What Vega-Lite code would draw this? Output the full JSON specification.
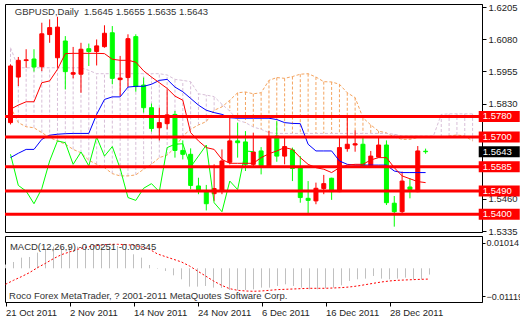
{
"$schema": "https://vega.github.io/schema/vega-lite/v6.json",
"padding": {"left": 3, "top": 1, "right": 0, "bottom": 0},
"background": "white",
"spacing": 4,
"bounds": "flush",
"config": {
  "view": {"stroke": "#000000", "strokeWidth": 1},
  "font": "Liberation Sans",
  "axis": {"labelFont": "Liberation Sans", "labelFontSize": 9.5, "labelColor": "#1e1e1e", "tickColor": "#000000", "domainColor": "#000000", "grid": false, "labelOverlap": false, "labelFlush": false}
},
"datasets": {
  "bars": [
    {"i":0,"o":1.5756,"h":1.5982,"l":1.5749,"c":1.5976,"tk":1.5808,"kj":1.5620,"ck":1.5633,"sa":1.5817,"sb":1.6047,"macd":0.0015,"sig":-0.0064},
    {"i":1,"o":1.5933,"h":1.6011,"l":1.5898,"c":1.5998,"tk":1.5824,"kj":1.5637,"ck":1.5512,"sa":1.5756,"sb":1.5969,"macd":0.00253,"sig":-0.0048},
    {"i":2,"o":1.5997,"h":1.6041,"l":1.5969,"c":1.6000,"tk":1.5837,"kj":1.5652,"ck":1.5490,"sa":1.5740,"sb":1.5969,"macd":0.00427,"sig":-0.00333},
    {"i":3,"o":1.6003,"h":1.6041,"l":1.5954,"c":1.5972,"tk":1.5837,"kj":1.5652,"ck":1.5441,"sa":1.5736,"sb":1.5969,"macd":0.00453,"sig":-0.00173},
    {"i":4,"o":1.5973,"h":1.6144,"l":1.5956,"c":1.6101,"tk":1.5911,"kj":1.5691,"ck":1.5500,"sa":1.5717,"sb":1.5969,"macd":0.00627,"sig":0.00027},
    {"i":5,"o":1.6098,"h":1.6157,"l":1.6066,"c":1.6125,"tk":1.5918,"kj":1.5707,"ck":1.5607,"sa":1.5698,"sb":1.5969,"macd":0.0076,"sig":0.002},
    {"i":6,"o":1.6008,"h":1.6167,"l":1.5969,"c":1.6127,"tk":1.5963,"kj":1.5711,"ck":1.5685,"sa":1.5685,"sb":1.5969,"macd":0.00867,"sig":0.00387},
    {"i":7,"o":1.6073,"h":1.6092,"l":1.5885,"c":1.5954,"tk":1.6024,"kj":1.5713,"ck":1.5678,"sa":1.5672,"sb":1.5969,"macd":0.00867,"sig":0.00547},
    {"i":8,"o":1.5944,"h":1.6050,"l":1.5928,"c":1.5950,"tk":1.6025,"kj":1.5714,"ck":1.5594,"sa":1.5652,"sb":1.5969,"macd":0.00827,"sig":0.00653},
    {"i":9,"o":1.5944,"h":1.6066,"l":1.5872,"c":1.6041,"tk":1.6025,"kj":1.5714,"ck":1.5642,"sa":1.5639,"sb":1.5969,"macd":0.00867,"sig":0.0076},
    {"i":10,"o":1.6043,"h":1.6063,"l":1.5976,"c":1.6032,"tk":1.6025,"kj":1.5714,"ck":1.5588,"sa":1.5610,"sb":1.5959,"macd":0.00867,"sig":0.0084},
    {"i":11,"o":1.6032,"h":1.6079,"l":1.5978,"c":1.6054,"tk":1.6025,"kj":1.5788,"ck":1.5700,"sa":1.5594,"sb":1.5946,"macd":0.00853,"sig":0.00893},
    {"i":12,"o":1.6051,"h":1.6134,"l":1.6047,"c":1.6103,"tk":1.6024,"kj":1.5846,"ck":1.5626,"sa":1.5581,"sb":1.5946,"macd":0.00867,"sig":0.00933},
    {"i":13,"o":1.6105,"h":1.6131,"l":1.5905,"c":1.5928,"tk":1.6002,"kj":1.5856,"ck":1.5663,"sa":1.5558,"sb":1.5946,"macd":0.00867,"sig":0.0096},
    {"i":14,"o":1.5923,"h":1.6015,"l":1.5859,"c":1.5929,"tk":1.5998,"kj":1.5856,"ck":1.5578,"sa":1.5549,"sb":1.5946,"macd":0.00893,"sig":0.0096},
    {"i":15,"o":1.5931,"h":1.6099,"l":1.5894,"c":1.6082,"tk":1.5998,"kj":1.5894,"ck":1.5465,"sa":1.5549,"sb":1.5946,"macd":0.00827,"sig":0.00947},
    {"i":16,"o":1.6090,"h":1.6099,"l":1.5876,"c":1.5896,"tk":1.5991,"kj":1.5897,"ck":1.5454,"sa":1.5553,"sb":1.5946,"macd":0.0056,"sig":0.0092},
    {"i":17,"o":1.5902,"h":1.5931,"l":1.5795,"c":1.5814,"tk":1.5957,"kj":1.5897,"ck":1.5501,"sa":1.5575,"sb":1.5946,"macd":0.00427,"sig":0.00853},
    {"i":18,"o":1.5814,"h":1.5830,"l":1.5721,"c":1.5733,"tk":1.5933,"kj":1.5905,"ck":1.5519,"sa":1.5594,"sb":1.5946,"macd":0.00133,"sig":0.0076},
    {"i":19,"o":1.5736,"h":1.5814,"l":1.5687,"c":1.5756,"tk":1.5911,"kj":1.5920,"ck":1.5488,"sa":1.5620,"sb":1.5946,"macd":-0.0002,"sig":0.00573},
    {"i":20,"o":1.5752,"h":1.5885,"l":1.5730,"c":1.5786,"tk":1.5889,"kj":1.5924,"ck":1.5659,"sa":1.5630,"sb":1.5941,"macd":-0.00107,"sig":0.00467},
    {"i":21,"o":1.5788,"h":1.5801,"l":1.5620,"c":1.5648,"tk":1.5859,"kj":1.5894,"ck":1.5672,"sa":1.5659,"sb":1.5924,"macd":-0.0028,"sig":0.0036},
    {"i":22,"o":1.5648,"h":1.5687,"l":1.5613,"c":1.5633,"tk":1.5843,"kj":1.5876,"ck":1.5674,"sa":1.5704,"sb":1.5920,"macd":-0.0044,"sig":0.00253},
    {"i":23,"o":1.5633,"h":1.5656,"l":1.5497,"c":1.5512,"tk":1.5717,"kj":1.5850,"ck":1.5584,"sa":1.5730,"sb":1.5915,"macd":-0.00733,"sig":0.00093},
    {"i":24,"o":1.5510,"h":1.5542,"l":1.5478,"c":1.5490,"tk":1.5685,"kj":1.5824,"ck":1.5626,"sa":1.5747,"sb":1.5868,"macd":-0.00733,"sig":-0.00107},
    {"i":25,"o":1.5490,"h":1.5514,"l":1.5415,"c":1.5441,"tk":1.5659,"kj":1.5804,"ck":1.5669,"sa":1.5760,"sb":1.5863,"macd":-0.00707,"sig":-0.00307},
    {"i":26,"o":1.5480,"h":1.5594,"l":1.5452,"c":1.5500,"tk":1.5652,"kj":1.5795,"ck":1.5445,"sa":1.5804,"sb":1.5857,"macd":-0.00773,"sig":-0.00507},
    {"i":27,"o":1.5494,"h":1.5652,"l":1.5478,"c":1.5607,"tk":1.5613,"kj":1.5788,"ck":1.5410,"sa":1.5817,"sb":1.5827,"macd":-0.00787,"sig":-0.0068},
    {"i":28,"o":1.5602,"h":1.5782,"l":1.5594,"c":1.5685,"tk":1.5598,"kj":1.5775,"ck":1.5529,"sa":1.5843,"sb":1.5801,"macd":-0.00867,"sig":-0.00813},
    {"i":29,"o":1.5685,"h":1.5756,"l":1.5620,"c":1.5678,"tk":1.5598,"kj":1.5773,"ck":1.5496,"sa":1.5872,"sb":1.5765,"macd":-0.0088,"sig":-0.0088},
    {"i":30,"o":1.5681,"h":1.5723,"l":1.5568,"c":1.5594,"tk":1.5598,"kj":1.5773,"ck":1.5646,"sa":1.5875,"sb":1.5756,"macd":-0.00867,"sig":-0.00907},
    {"i":31,"o":1.5594,"h":1.5717,"l":1.5584,"c":1.5642,"tk":1.5598,"kj":1.5773,"ck":1.5643,"sa":1.5868,"sb":1.5739,"macd":-0.0084,"sig":-0.0092},
    {"i":32,"o":1.5646,"h":1.5661,"l":1.5555,"c":1.5588,"tk":1.5620,"kj":1.5773,"sa":1.5872,"sb":1.5730,"macd":-0.00773,"sig":-0.00907},
    {"i":33,"o":1.5588,"h":1.5723,"l":1.5585,"c":1.5700,"tk":1.5635,"kj":1.5773,"sa":1.5920,"sb":1.5717,"macd":-0.00773,"sig":-0.0088},
    {"i":34,"o":1.5704,"h":1.5762,"l":1.5604,"c":1.5626,"tk":1.5646,"kj":1.5768,"sa":1.5931,"sb":1.5714,"macd":-0.00707,"sig":-0.00853},
    {"i":35,"o":1.5626,"h":1.5700,"l":1.5594,"c":1.5663,"tk":1.5659,"kj":1.5756,"sa":1.5928,"sb":1.5714,"macd":-0.0064,"sig":-0.0084},
    {"i":36,"o":1.5650,"h":1.5659,"l":1.5529,"c":1.5578,"tk":1.5652,"kj":1.5753,"sa":1.5935,"sb":1.5714,"macd":-0.00707,"sig":-0.00827},
    {"i":37,"o":1.5581,"h":1.5626,"l":1.5445,"c":1.5465,"tk":1.5620,"kj":1.5752,"sa":1.5944,"sb":1.5714,"macd":-0.00773,"sig":-0.00813},
    {"i":38,"o":1.5462,"h":1.5529,"l":1.5400,"c":1.5454,"tk":1.5594,"kj":1.5672,"sa":1.5946,"sb":1.5714,"macd":-0.0084,"sig":-0.008},
    {"i":39,"o":1.5452,"h":1.5523,"l":1.5439,"c":1.5501,"tk":1.5581,"kj":1.5646,"sa":1.5933,"sb":1.5714,"macd":-0.0084,"sig":-0.008},
    {"i":40,"o":1.5500,"h":1.5553,"l":1.5478,"c":1.5519,"tk":1.5575,"kj":1.5646,"sa":1.5915,"sb":1.5714,"macd":-0.008,"sig":-0.008},
    {"i":41,"o":1.5540,"h":1.5542,"l":1.5456,"c":1.5488,"tk":1.5562,"kj":1.5646,"sa":1.5914,"sb":1.5714,"macd":-0.00773,"sig":-0.00787},
    {"i":42,"o":1.5488,"h":1.5698,"l":1.5486,"c":1.5659,"tk":1.5581,"kj":1.5607,"sa":1.5905,"sb":1.5714,"macd":-0.0068,"sig":-0.00773},
    {"i":43,"o":1.5655,"h":1.5775,"l":1.5643,"c":1.5672,"tk":1.5591,"kj":1.5594,"sa":1.5872,"sb":1.5714,"macd":-0.00507,"sig":-0.00747},
    {"i":44,"o":1.5669,"h":1.5726,"l":1.5643,"c":1.5674,"tk":1.5594,"kj":1.5591,"sa":1.5853,"sb":1.5714,"macd":-0.0044,"sig":-0.00707},
    {"i":45,"o":1.5672,"h":1.5704,"l":1.5581,"c":1.5584,"tk":1.5594,"kj":1.5591,"sa":1.5775,"sb":1.5714,"macd":-0.00413,"sig":-0.00653},
    {"i":46,"o":1.5588,"h":1.5646,"l":1.5586,"c":1.5626,"tk":1.5611,"kj":1.5591,"sa":1.5747,"sb":1.5714,"macd":-0.00307,"sig":-0.006},
    {"i":47,"o":1.5622,"h":1.5698,"l":1.5620,"c":1.5669,"tk":1.5620,"kj":1.5591,"sa":1.5723,"sb":1.5714,"macd":-0.00413,"sig":-0.00547},
    {"i":48,"o":1.5669,"h":1.5687,"l":1.5436,"c":1.5445,"tk":1.5620,"kj":1.5591,"sa":1.5716,"sb":1.5714,"macd":-0.0044,"sig":-0.00507},
    {"i":49,"o":1.5443,"h":1.5471,"l":1.5352,"c":1.5410,"tk":1.5581,"kj":1.5568,"sa":1.5700,"sb":1.5711,"macd":-0.00413,"sig":-0.0048},
    {"i":50,"o":1.5410,"h":1.5566,"l":1.5400,"c":1.5529,"tk":1.5549,"kj":1.5562,"sa":1.5691,"sb":1.5704,"macd":-0.00373,"sig":-0.00467},
    {"i":51,"o":1.5506,"h":1.5540,"l":1.5462,"c":1.5496,"tk":1.5538,"kj":1.5562,"sa":1.5691,"sb":1.5704,"macd":-0.0044,"sig":-0.00453},
    {"i":52,"o":1.5488,"h":1.5665,"l":1.5486,"c":1.5646,"tk":1.5527,"kj":1.5562,"sa":1.5698,"sb":1.5704,"macd":-0.0044,"sig":-0.0044},
    {"i":53,"o":1.5645,"h":1.5655,"l":1.5635,"c":1.5643,"tk":1.5523,"kj":1.5562,"sa":1.5698,"sb":1.5704,"macd":-0.00251,"sig":-0.0043},
    {"i":54,"sa":1.5698,"sb":1.5704},
    {"i":55,"sa":1.5700,"sb":1.5788},
    {"i":56,"sa":1.5704,"sb":1.5790},
    {"i":57,"sa":1.5708,"sb":1.5790},
    {"i":58,"sa":1.5704,"sb":1.5790},
    {"i":59,"sa":1.5685,"sb":1.5790}
  ],
  "levels": [
    {"price":1.5780,"label":"1.5780","kind":"level"},
    {"price":1.5700,"label":"1.5700","kind":"level"},
    {"price":1.5585,"label":"1.5585","kind":"level"},
    {"price":1.5490,"label":"1.5490","kind":"level"},
    {"price":1.5400,"label":"1.5400","kind":"level"},
    {"price":1.5643,"label":"1.5643","kind":"current"}
  ]
},
"vconcat": [
  {
    "width": 477,
    "height": 228,
    "layer": [
      {
        "data": {"name": "bars"},
        "transform": [{"filter": "isValid(datum.sa)"}],
        "mark": {"type": "rule", "strokeDash": [3, 2], "strokeWidth": 1, "clip": true},
        "encoding": {
          "x": {"field": "i", "type": "quantitative", "scale": {"domain": [-0.0625, 59.5625], "nice": false, "zero": false}, "axis": null},
          "y": {"field": "sa", "type": "quantitative", "title": null, "scale": {"domain": [1.53312, 1.62167], "nice": false, "zero": false},
                "axis": {"orient": "right", "values": [1.6205, 1.608, 1.5955, 1.583, 1.546, 1.5335], "format": ".4f", "tickSize": 4, "labelPadding": 2, "domain": true, "title": null}},
          "y2": {"field": "sb"},
          "color": {"condition": {"test": "datum.sa > datum.sb", "value": "#f4a460"}, "value": "#d8bfd8"}
        }
      },
      {
        "data": {"name": "bars"},
        "mark": {"type": "line", "stroke": "#f4a460", "strokeDash": [3, 2], "strokeWidth": 1, "clip": true},
        "encoding": {
          "x": {"field": "i", "type": "quantitative", "scale": {"domain": [-0.0625, 59.5625], "nice": false, "zero": false}, "axis": null},
          "y": {"field": "sa", "type": "quantitative", "title": null, "scale": {"domain": [1.53312, 1.62167], "nice": false, "zero": false}}
        }
      },
      {
        "data": {"name": "bars"},
        "mark": {"type": "line", "stroke": "#d8bfd8", "strokeDash": [3, 2], "strokeWidth": 1, "clip": true},
        "encoding": {
          "x": {"field": "i", "type": "quantitative", "scale": {"domain": [-0.0625, 59.5625], "nice": false, "zero": false}, "axis": null},
          "y": {"field": "sb", "type": "quantitative", "title": null, "scale": {"domain": [1.53312, 1.62167], "nice": false, "zero": false}}
        }
      },
      {
        "data": {"name": "bars"},
        "transform": [{"filter": "isValid(datum.o)"}],
        "mark": {"type": "rule", "strokeWidth": 1, "clip": true},
        "encoding": {
          "x": {"field": "i", "type": "quantitative", "scale": {"domain": [-0.0625, 59.5625], "nice": false, "zero": false}, "axis": null},
          "y": {"field": "l", "type": "quantitative", "title": null, "scale": {"domain": [1.53312, 1.62167], "nice": false, "zero": false}},
          "y2": {"field": "h"},
          "color": {"condition": {"test": "datum.c >= datum.o", "value": "#ff0000"}, "value": "#00ff00"}
        }
      },
      {
        "data": {"name": "bars"},
        "transform": [{"filter": "isValid(datum.o)"}],
        "mark": {"type": "bar", "size": 4, "strokeWidth": 1, "clip": true},
        "encoding": {
          "x": {"field": "i", "type": "quantitative", "scale": {"domain": [-0.0625, 59.5625], "nice": false, "zero": false}, "axis": null},
          "y": {"field": "o", "type": "quantitative", "title": null, "scale": {"domain": [1.53312, 1.62167], "nice": false, "zero": false}},
          "y2": {"field": "c"},
          "fill": {"condition": {"test": "datum.c >= datum.o", "value": "#ff0000"}, "value": "#00ff00"},
          "stroke": {"condition": {"test": "datum.c >= datum.o", "value": "#ff0000"}, "value": "#00ff00"}
        }
      },
      {
        "data": {"name": "bars"},
        "mark": {"type": "line", "stroke": "#00ff00", "strokeWidth": 1, "clip": true},
        "encoding": {
          "x": {"field": "i", "type": "quantitative", "scale": {"domain": [-0.0625, 59.5625], "nice": false, "zero": false}, "axis": null},
          "y": {"field": "ck", "type": "quantitative", "title": null, "scale": {"domain": [1.53312, 1.62167], "nice": false, "zero": false}}
        }
      },
      {
        "data": {"name": "bars"},
        "mark": {"type": "line", "stroke": "#0000ff", "strokeWidth": 1, "clip": true},
        "encoding": {
          "x": {"field": "i", "type": "quantitative", "scale": {"domain": [-0.0625, 59.5625], "nice": false, "zero": false}, "axis": null},
          "y": {"field": "kj", "type": "quantitative", "title": null, "scale": {"domain": [1.53312, 1.62167], "nice": false, "zero": false}}
        }
      },
      {
        "data": {"name": "bars"},
        "mark": {"type": "line", "stroke": "#ff0000", "strokeWidth": 1, "clip": true},
        "encoding": {
          "x": {"field": "i", "type": "quantitative", "scale": {"domain": [-0.0625, 59.5625], "nice": false, "zero": false}, "axis": null},
          "y": {"field": "tk", "type": "quantitative", "title": null, "scale": {"domain": [1.53312, 1.62167], "nice": false, "zero": false}}
        }
      },
      {
        "data": {"name": "levels"},
        "transform": [{"filter": "datum.kind == 'level'"}],
        "mark": {"type": "rule", "color": "#ff0000", "strokeWidth": 3},
        "encoding": {
          "y": {"field": "price", "type": "quantitative", "title": null, "scale": {"domain": [1.53312, 1.62167], "nice": false, "zero": false}}
        }
      },
      {
        "data": {"name": "levels"},
        "mark": {"type": "tick", "orient": "horizontal", "size": 41, "thickness": 11, "opacity": 1, "clip": false},
        "encoding": {
          "x": {"datum": 62.4, "type": "quantitative", "scale": {"domain": [-0.0625, 59.5625], "nice": false, "zero": false}},
          "y": {"field": "price", "type": "quantitative", "title": null, "scale": {"domain": [1.53312, 1.62167], "nice": false, "zero": false}},
          "color": {"condition": {"test": "datum.kind == 'current'", "value": "#000000"}, "value": "#ff0000"}
        }
      },
      {
        "data": {"name": "levels"},
        "mark": {"type": "text", "align": "left", "baseline": "middle", "color": "#ffffff", "fontSize": 9.5, "font": "Liberation Sans", "clip": false},
        "encoding": {
          "x": {"datum": 60.3, "type": "quantitative", "scale": {"domain": [-0.0625, 59.5625], "nice": false, "zero": false}},
          "y": {"field": "price", "type": "quantitative", "title": null, "scale": {"domain": [1.53312, 1.62167], "nice": false, "zero": false}},
          "text": {"field": "label"}
        }
      },
      {
        "data": {"values": [{"t": "GBPUSD,Daily\u00a0\u00a01.5645 1.5655 1.5635 1.5643"}]},
        "mark": {"type": "text", "align": "left", "baseline": "middle", "color": "#333333", "fontSize": 9.5, "font": "Liberation Sans"},
        "encoding": {
          "x": {"datum": 0.55, "type": "quantitative", "scale": {"domain": [-0.0625, 59.5625], "nice": false, "zero": false}},
          "y": {"datum": 1.6186, "type": "quantitative", "scale": {"domain": [1.53312, 1.62167], "nice": false, "zero": false}},
          "text": {"field": "t"}
        }
      }
    ]
  },
  {
    "width": 477,
    "height": 66,
    "layer": [
      {
        "data": {"name": "bars"},
        "transform": [{"filter": "isValid(datum.macd)"}],
        "mark": {"type": "rule", "color": "#c0c0c0", "strokeWidth": 1},
        "encoding": {
          "x": {"field": "i", "type": "quantitative", "scale": {"domain": [-0.0625, 59.5625], "nice": false, "zero": false},
                "axis": {"orient": "bottom", "values": [0, 8, 16, 24, 32, 40, 48], "labelExpr": "['21 Oct 2011','2 Nov 2011','14 Nov 2011','24 Nov 2011','6 Dec 2011','16 Dec 2011','28 Dec 2011'][round(datum.value/8)]", "labelAlign": "left", "tickSize": 4, "labelPadding": 1, "domain": false, "title": null}},
          "y": {"field": "macd", "type": "quantitative", "title": null, "scale": {"domain": [-0.01348, 0.01292], "nice": false, "zero": false},
                "axis": {"orient": "right", "values": [0.01014, 0, -0.01119], "labelExpr": "datum.value == 0 ? '0.00' : format(datum.value, '.5f')", "tickSize": 3, "labelPadding": 1, "labelFontSize": 9, "title": null}},
          "y2": {"datum": 0}
        }
      },
      {
        "data": {"name": "bars"},
        "mark": {"type": "line", "stroke": "#ff0000", "strokeDash": [2, 2], "strokeWidth": 1},
        "encoding": {
          "x": {"field": "i", "type": "quantitative", "scale": {"domain": [-0.0625, 59.5625], "nice": false, "zero": false}},
          "y": {"field": "sig", "type": "quantitative", "title": null, "scale": {"domain": [-0.01348, 0.01292], "nice": false, "zero": false}}
        }
      },
      {
        "data": {"values": [{"t": "MACD(12,26,9) -0.00251 -0.00345"}]},
        "mark": {"type": "text", "align": "left", "baseline": "middle", "color": "#333333", "fontSize": 9.5, "font": "Liberation Sans"},
        "encoding": {
          "x": {"datum": 0.55, "type": "quantitative", "scale": {"domain": [-0.0625, 59.5625], "nice": false, "zero": false}},
          "y": {"datum": 0.0086, "type": "quantitative", "scale": {"domain": [-0.01348, 0.01292], "nice": false, "zero": false}},
          "text": {"field": "t"}
        }
      },
      {
        "data": {"values": [{"t": "Roco Forex MetaTrader, ? 2001-2011 MetaQuotes Software Corp."}]},
        "mark": {"type": "text", "align": "left", "baseline": "middle", "color": "#333333", "fontSize": 9.5, "font": "Liberation Sans"},
        "encoding": {
          "x": {"datum": 0.45, "type": "quantitative", "scale": {"domain": [-0.0625, 59.5625], "nice": false, "zero": false}},
          "y": {"datum": -0.0111, "type": "quantitative", "scale": {"domain": [-0.01348, 0.01292], "nice": false, "zero": false}},
          "text": {"field": "t"}
        }
      }
    ]
  }
]
}
